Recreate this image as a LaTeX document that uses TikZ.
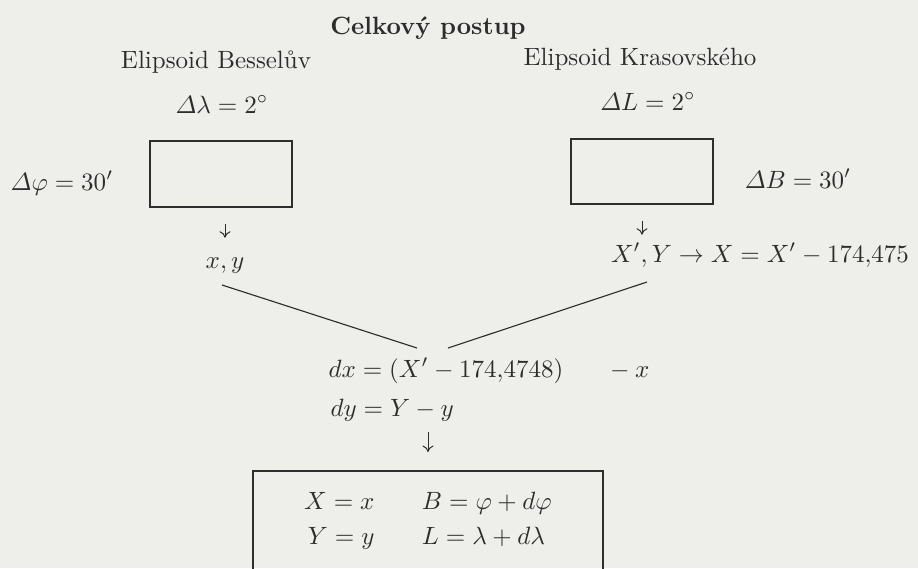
\documentclass[tikz,border=0pt]{standalone}
\usepackage{amsmath}
\usetikzlibrary{arrows.meta}
\definecolor{paper}{RGB}{238,238,235}
\definecolor{ink}{RGB}{45,45,45}
\begin{document}
\begin{tikzpicture}[x=0.4pt,y=-0.4pt,
  lbl/.style={inner sep=0pt, text=ink, anchor=base},
  frame/.style={draw=ink, line width=0.55pt, inner sep=0pt},
  arr/.style={draw=ink, line width=0.4pt, -{To[length=2.6pt,width=4.4pt]}},
  thinline/.style={draw=ink, line width=0.45pt}]
\path[use as bounding box, fill=paper] (0,0) rectangle (918,568);
\clip (0,0) rectangle (918,568);
\node[lbl,font=\bfseries] (title) at (428,34) {Celkový postup};
\node[lbl] (bes) at (216,68) {Elipsoid Besselův};
\node[lbl] (kra) at (640,65) {Elipsoid Krasovského};
\node[lbl] (dl) at (222,113) {$\varDelta\lambda = 2^\circ$};
\node[lbl] (dL) at (648,110) {$\varDelta L = 2^\circ$};
\node[frame, minimum width=56.8pt, minimum height=26.4pt] (bb) at (221,174) {};
\node[frame, minimum width=56.8pt, minimum height=26pt] (kb) at (642,171.5) {};
\node[lbl] (dphi) at (62,190) {$\varDelta\varphi = 30'$};
\node[lbl] (dB) at (798,188) {$\varDelta B = 30'$};
\node[lbl] (xy) at (225,268) {$x, y$};
\node[lbl] (xp) at (760,262) {$X', Y \rightarrow X = X' - 174{,}475$};
\node[lbl, anchor=base west] (dx) at (328,377) {$dx = (X' - 174{,}4748)\hspace{16.5pt} - x$};
\node[lbl, anchor=base west] (dy) at (330,416) {$dy = Y - y$};
\node[frame, line width=0.8pt, minimum width=140pt, minimum height=40pt, text=ink] (res) at (428,521)
  {$\begin{array}{r@{\hspace{19pt}}l} X = x & B = \varphi + d\varphi\\[2pt] Y = y & L = \lambda + d\lambda \end{array}$};
\coordinate (la) at (222,285);
\coordinate (lb) at (417,348);
\coordinate (ra) at (647,282);
\coordinate (rb) at (448,348);
\draw[thinline] (la) -- (lb);
\draw[thinline] (ra) -- (rb);
\draw[arr, shorten <=6.4pt, shorten >=7.6pt] (xy.north |- bb.south) -- (xy.north);
\draw[arr, shorten <=6.4pt, shorten >=3.2pt] (kb.south) -- (kb.south |- xp.north);
\draw[arr, shorten <=4.4pt, shorten >=7.2pt] (res.north |- dy.south) -- (res.north);
\end{tikzpicture}
\end{document}
